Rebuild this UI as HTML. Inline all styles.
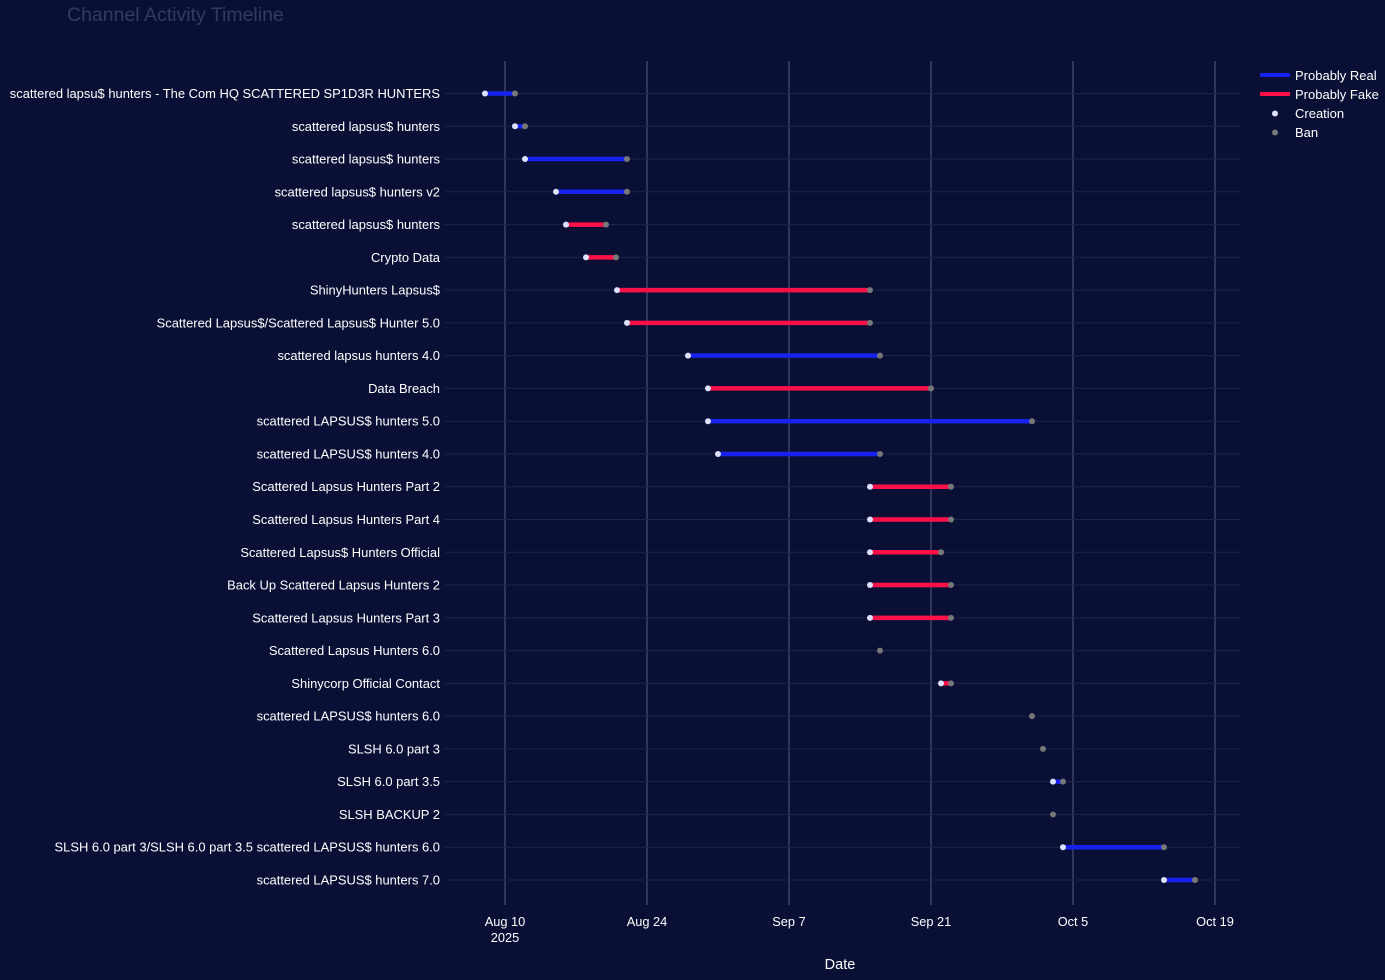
<!DOCTYPE html>
<html><head><meta charset="utf-8"><style>
body{margin:0;background:#0a1035;}
svg{display:block;font-family:"Liberation Sans","DejaVu Sans",sans-serif;}
</style></head><body>
<svg width="1385" height="980" xmlns="http://www.w3.org/2000/svg">
<rect width="1385" height="980" fill="#0a1035"/>
<text x="67" y="21" fill="#2f3d63" font-size="19.5">Channel Activity Timeline</text>
<g id="grid"></g>
<g id="data"></g>
<g font-size="12.8" fill="#ffffff" text-anchor="middle">
<text x="505" y="926">Aug 10</text><text x="505" y="942">2025</text>
<text x="647" y="926">Aug 24</text><text x="789" y="926">Sep 7</text>
<text x="931" y="926">Sep 21</text><text x="1073" y="926">Oct 5</text>
<text x="1215" y="926">Oct 19</text>
<text x="840" y="969" font-size="14.5">Date</text>
</g>
<g font-size="13" fill="#ffffff">
<rect x="1260" y="73" width="30" height="4" fill="#1722f0"/>
<text x="1295" y="80">Probably Real</text>
<rect x="1260" y="92" width="30" height="4" fill="#ff1048"/>
<text x="1295" y="99">Probably Fake</text>
<circle cx="1275" cy="113.5" r="3" fill="#dde0ff"/>
<text x="1295" y="118">Creation</text>
<circle cx="1275" cy="132.5" r="3" fill="#777"/>
<text x="1295" y="137">Ban</text>
</g>
<script>
var rows=[
["scattered lapsu$ hunters - The Com HQ SCATTERED SP1D3R HUNTERS",485,515,"b"],
["scattered lapsus$ hunters",515,525,"b"],
["scattered lapsus$ hunters",525,627,"b"],
["scattered lapsus$ hunters v2",556,627,"b"],
["scattered lapsus$ hunters",566,606,"r"],
["Crypto Data",586,616,"r"],
["ShinyHunters Lapsus$",617,870,"r"],
["Scattered Lapsus$/Scattered Lapsus$ Hunter 5.0",627,870,"r"],
["scattered lapsus hunters 4.0",688,880,"b"],
["Data Breach",708,931,"r"],
["scattered LAPSUS$ hunters 5.0",708,1032,"b"],
["scattered LAPSUS$ hunters 4.0",718,880,"b"],
["Scattered Lapsus Hunters Part 2",870,951,"r"],
["Scattered Lapsus Hunters Part 4",870,951,"r"],
["Scattered Lapsus$ Hunters Official",870,941,"r"],
["Back Up Scattered Lapsus Hunters 2",870,951,"r"],
["Scattered Lapsus Hunters Part 3",870,951,"r"],
["Scattered Lapsus Hunters 6.0",null,880,""],
["Shinycorp Official Contact",941,951,"r"],
["scattered LAPSUS$ hunters 6.0",null,1032,""],
["SLSH 6.0 part 3",null,1043,""],
["SLSH 6.0 part 3.5",1053,1063,"b"],
["SLSH BACKUP 2",null,1053,""],
["SLSH 6.0 part 3/SLSH 6.0 part 3.5 scattered LAPSUS$ hunters 6.0",1063,1164,"b"],
["scattered LAPSUS$ hunters 7.0",1164,1195,"b"]];
var ns="http://www.w3.org/2000/svg",g=document.getElementById("grid"),d=document.getElementById("data");
function el(p,t,a){var e=document.createElementNS(ns,t);for(var k in a)e.setAttribute(k,a[k]);p.appendChild(e);return e;}
[505,647,789,931,1073,1215].forEach(function(x){el(g,"line",{x1:x,x2:x,y1:61,y2:905,stroke:"#555d80","stroke-width":1});});
rows.forEach(function(r,i){var y=93.5+i*32.77;
el(g,"line",{x1:445,x2:1240,y1:y,y2:y,stroke:"#1c2448","stroke-width":1});
var t=el(d,"text",{x:440,y:y+4.5,"text-anchor":"end",fill:"#fff","font-size":"12.95"});t.textContent=r[0];
if(r[1]!==null){el(d,"line",{x1:r[1],x2:r[2],y1:y,y2:y,stroke:r[3]=="b"?"#1722f0":"#ff1048","stroke-width":4.5});
el(d,"circle",{cx:r[1],cy:y,r:3,fill:"#dde0ff"});}
el(d,"circle",{cx:r[2],cy:y,r:3,fill:"#777"});});
</script>
</svg>
</body></html>
